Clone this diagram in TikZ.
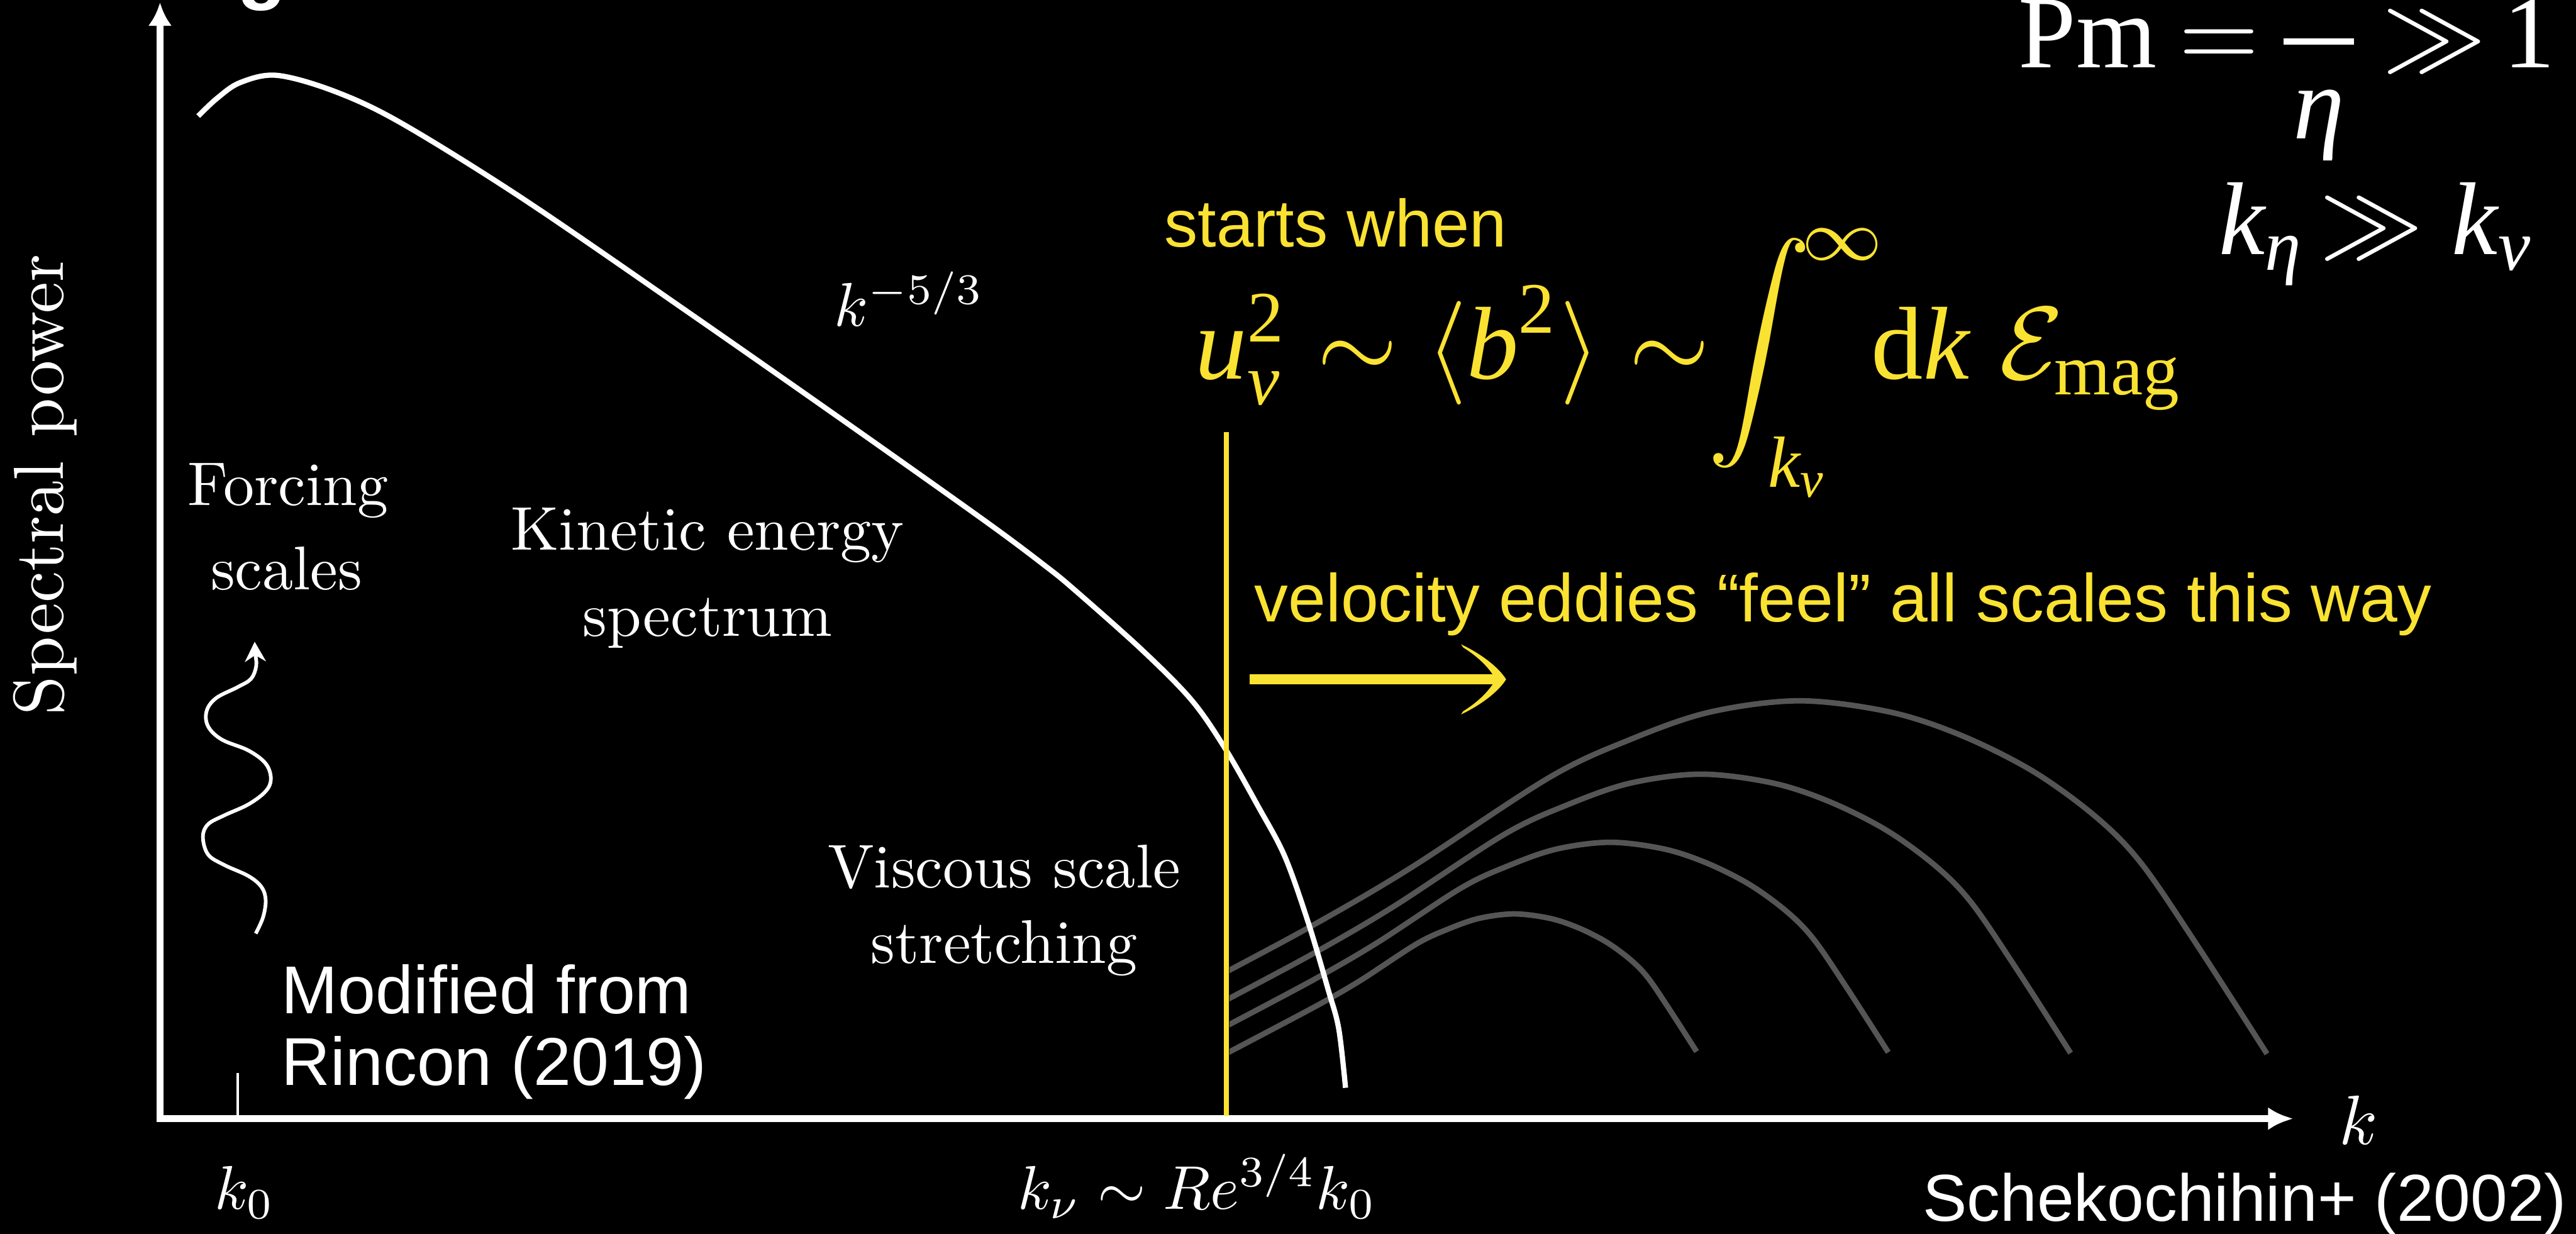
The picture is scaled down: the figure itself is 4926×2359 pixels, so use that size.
\RequirePackage{fix-cm}
\documentclass[tikz,border=0pt]{standalone}
\usepackage{amsmath}
\usepackage{fontspec}
\newfontfamily\hv{Liberation Sans}
\newfontfamily\tm{Liberation Serif}
\usetikzlibrary{arrows.meta}
\definecolor{yel}{RGB}{250,226,50}
\definecolor{grc}{RGB}{85,85,85}
\newcommand{\ti}[1]{\text{\tm\itshape #1}}
\newcommand{\tr}[1]{\text{\tm\upshape #1}}
\begin{document}
\begin{tikzpicture}[x=0.01cm, y=-0.01cm,
  cmlab/.style={text=white, inner sep=0pt, font=\fontsize{10pt}{12pt}\selectfont, scale=3.36, transform shape},
  cmklab/.style={text=white, inner sep=0pt, font=\fontsize{10pt}{12pt}\selectfont, scale=3.8, transform shape},
  cmsplab/.style={text=white, inner sep=0pt, font=\fontsize{10pt}{12pt}\selectfont, scale=3.85, transform shape},
  hvylab/.style={text=yel, inner sep=0pt, font=\hv\fontsize{36.4pt}{42pt}\selectfont},
  hvylabb/.style={text=yel, inner sep=0pt, font=\hv\fontsize{36.8pt}{42pt}\selectfont},
  hvwlab/.style={text=white, inner sep=0pt, font=\hv\fontsize{36.8pt}{42pt}\selectfont},
  hvslab/.style={text=white, inner sep=0pt, font=\hv\fontsize{36.1pt}{40pt}\selectfont},
  tmylab/.style={text=yel, inner sep=0pt, font=\fontsize{10pt}{12pt}\selectfont, scale=5.63, transform shape},
  tmwlab/.style={text=white, inner sep=0pt, font=\fontsize{10pt}{12pt}\selectfont, scale=5.63, transform shape},
  axisline/.style={white, line width=1.25mm},
  specline/.style={white, line width=1mm},
  magline/.style={grc, line width=1.05mm},
]
\path[use as bounding box, fill=black] (0,0) rectangle (4926,2359);

% fragment of a title letter cut by the top edge
\node[text=white, inner sep=0pt, anchor=base west, font=\hv\bfseries\fontsize{43.8pt}{50pt}\selectfont] (gfrag) at (453,-11) {g};

% magnetic spectra (grey), clipped at the viscous scale
\begin{scope}
\clip (2351,0) rectangle (4926,2359);
\foreach \s in {1,0.79,0.595,0.39}{
  \begin{scope}[shift={(2547,2008)}, scale=\s, shift={(-2547,-2008)}]
  \draw[magline] plot[smooth, tension=0.55] coordinates {(1990,2045) (2355,1853) (2527,1760) (2700,1658) (2962,1487) (3115,1415) (3268,1362) (3440,1340) (3612,1361) (3750,1406) (3888,1475) (4008,1562) (4094,1650) (4198,1802) (4335,2015)};
  \end{scope}
}
\end{scope}

% kinetic energy spectrum
\draw[specline] plot[smooth, tension=0.55] coordinates {(379,222) (415,188) (459,158) (529,144) (638,174) (765,234) (1000,380) (1319,599) (1638,822) (1889,1000) (2000,1083) (2055,1128) (2183,1242) (2278,1338) (2342,1430) (2406,1542) (2457,1638) (2502,1765) (2540,1893) (2560,1967) (2573,2080)};

% axes
\coordinate (O) at (300,2139);
\coordinate (Ybot) at (306,2145);
\coordinate (Ytip) at (306,5);
\coordinate (Xtip) at (4385,2139);
\draw[axisline, -{Latex[length=4.4mm,width=4.5mm]}] (Ybot) -- (Ytip);
\draw[axisline, -{Latex[length=4.8mm,width=4.4mm]}] (O) -- (Xtip);
\coordinate (tickT) at (455,2052);
\coordinate (tickB) at (455,2139);
\draw[white, line width=0.5mm] (tickT) -- (tickB);

% viscous scale line
\coordinate (vtop) at (2345,826);
\coordinate (vbot) at (2345,2133);
\draw[yel, line width=1mm] (vtop) -- (vbot);

% yellow arrow
\coordinate (ya) at (2390,1299);
\coordinate (yb) at (2866,1299);
\draw[yel, line width=2mm] (ya) -- (yb);
\fill[yel] (2794,1232) .. controls (2832,1250) and (2866,1276) .. (2880,1299)
  .. controls (2866,1322) and (2832,1348) .. (2794,1366)
  -- (2798,1360) .. controls (2830,1340) and (2850,1318) .. (2860,1299)
  .. controls (2850,1280) and (2830,1258) .. (2798,1238) -- cycle;

% forcing wiggle
\draw[white, line width=0.7mm, -{Stealth[length=3.8mm,width=4mm]}] plot[smooth, tension=0.6] coordinates {(489,1785) (503,1754) (508,1721) (500,1696) (475,1675) (429,1654) (398,1634) (388,1600) (398,1576) (429,1559) (475,1538) (508,1513) (518,1489) (508,1460) (475,1435) (424,1414) (398,1389) (395,1360) (413,1335) (454,1314) (480,1298) (490,1273) (488,1248) (487,1227)};

% CM labels
\node[cmsplab, rotate=90] (ylab) at (86,927) {Spectral power};
\node[cmlab, anchor=base] (forc1) at (551,966) {Forcing};
\node[cmlab, anchor=base] (forc2) at (548,1128) {scales};
\node[cmlab, anchor=base] (kin1) at (1353,1052) {Kinetic energy};
\node[cmlab, anchor=base] (kin2) at (1353,1217) {spectrum};
\node[cmlab, anchor=base] (visc1) at (1920,1698) {Viscous scale};
\node[cmlab, anchor=base] (visc2) at (1920,1842) {stretching};
\node[cmlab, anchor=base west] (slope) at (1593,624) {$k^{-5/3}$};
\node[cmlab, anchor=base west] (k0) at (408,2312) {$k_0$};
\node[cmlab, anchor=base west] (knu) at (1944,2312) {$k_\nu \sim Re^{3/4} k_0$};
\node[cmklab, anchor=base west] (kax) at (4470,2188) {$k$};

% sans labels
\node[hvylab, anchor=base west] (starts) at (2226,472) {starts when};
\node[hvylabb, anchor=base west] (vel) at (2398,1189) {velocity eddies “feel” all scales this way};
\node[hvwlab, anchor=base west] (mod1) at (538,1938) {Modified from};
\node[hvwlab, anchor=base west] (mod2) at (538,2075) {Rincon (2019)};
\node[hvslab, anchor=base west] (schek) at (3676,2335) {Schekochihin+ (2002)};

% yellow equation
\node[tmylab, anchor=base west] (eqa) at (2282,725) {$\ti{u}_{\ti{ν}}^{\tr{2}} \sim \langle \ti{b}^{\tr{2}}\rangle \sim$};
\node[tmylab, anchor=base west] (eqint) at (3262,725) {$\displaystyle\int$};
\node[tmylab, anchor=base west] (eqsup) at (3440,497) {$\scriptstyle\infty$};
\node[tmylab, anchor=base west] (eqsub) at (3377,931) {$\scriptstyle\ti{k}_{\ti{ν}}$};
\node[tmylab, anchor=base west] (eqdk) at (3575,725) {$\tr{d}\ti{k}$};
\node[tmylab, anchor=base west] (eqE) at (3820,725) {$\mathcal{E}_{\tr{mag}}$};

% white relations
\node[tmwlab, anchor=base west] (pmP) at (3856,129) {\tm Pm};
\node[tmwlab, anchor=base] (pmEq) at (4243,129) {$=$};
\node[tmwlab, anchor=base] (pmFrac) at (4434,129) {$\genfrac{}{}{0.65pt}{0}{\hspace{0.9pt}\ti{ν}\hspace{0.9pt}}{\hspace{0.9pt}\ti{η}\hspace{0.9pt}}$};
\node[tmwlab, anchor=base] (pmGg) at (4655,129) {$\gg$};
\node[tmwlab, anchor=base east] (pmOne) at (4890,129) {\tm 1};
\node[tmwlab, anchor=base west] (keta) at (4240,487) {$\ti{k}_{\ti{η}}$};
\node[tmwlab, anchor=base] (kgg) at (4535,487) {$\gg$};
\node[tmwlab, anchor=base west] (knu2) at (4685,487) {$\ti{k}_{\ti{ν}}$};
\end{tikzpicture}
\end{document}
